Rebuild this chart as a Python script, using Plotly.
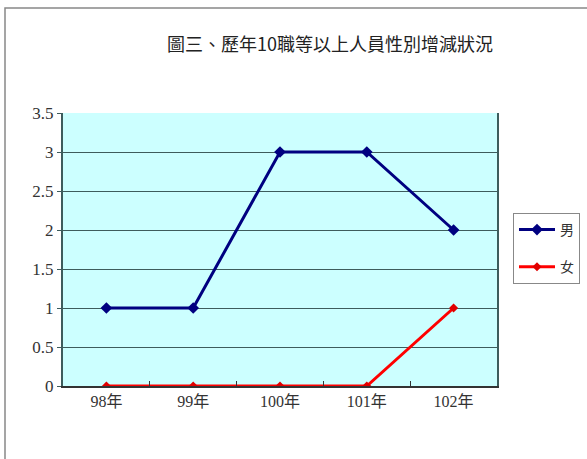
import plotly.graph_objects as go

categories = ["98年", "99年", "100年", "101年", "102年"]
male = [1, 1, 3, 3, 2]
female = [0, 0, 0, 0, 1]
series_names = ["男", "女"]
title_text = "圖三、歷年10職等以上人員性別增減狀況"

W, H = 587, 459
L, R, T, B = 63, 497, 113, 386
pw, ph = R - L, B - T

font_fam = "Liberation Serif, Noto Sans CJK TC, serif"

fig = go.Figure()
fig.add_trace(go.Scatter(x=categories, y=male, name=series_names[0], mode="lines+markers",
                         legendgroup="m",
                         line=dict(color="#000080", width=3),
                         marker=dict(symbol="diamond", size=9, color="#000080")))
fig.add_trace(go.Scatter(x=categories, y=female, name=series_names[1], mode="lines+markers",
                         legendgroup="f",
                         line=dict(color="#FF0000", width=3),
                         marker=dict(symbol="diamond", size=7, color="#E00000")))

def px_x(p):
    return (p - L) / pw

def px_y(p):
    return (B - p) / ph

fig.update_layout(
    width=W, height=H,
    margin=dict(l=L, r=W - R, t=T, b=H - B, autoexpand=False),
    paper_bgcolor="white",
    plot_bgcolor="#CCFFFF",
    font=dict(family=font_fam, size=14, color="#333333"),
    title=dict(text=title_text, x=330 / W, xanchor="center", y=1 - 45 / H, yanchor="middle",
               font=dict(family="Noto Sans CJK TC", size=18, color="#222222")),
    showlegend=True,
    legend=dict(x=px_x(513), y=px_y(213), xanchor="left", yanchor="top",
                bordercolor="#888888", borderwidth=1, bgcolor="white",
                font=dict(family="Noto Sans CJK TC", size=14, color="#333333"),
                itemwidth=36, tracegroupgap=16),
    xaxis=dict(type="category", range=[-0.5, 4.5], showgrid=False,
               showline=True, linecolor="#333333", linewidth=2,
               ticks="inside", tickson="boundaries", ticklen=5, tickcolor="#333333",
               tickfont=dict(family="Liberation Serif, Noto Sans CJK TC", size=16, color="#333333"),
               mirror=False, zeroline=False),
    yaxis=dict(range=[0, 3.5], dtick=0.5, showgrid=True, gridcolor="#3d5c5c", gridwidth=1,
               showline=True, linecolor="#3d5c5c", linewidth=2, mirror=True,
               ticks="outside", ticklen=4, tickcolor="#3d5c5c",
               tickfont=dict(family="Liberation Serif", size=17, color="#333333"),
               zeroline=False),
    shapes=[dict(type="rect", xref="paper", yref="paper",
                 x0=px_x(5), x1=px_x(600), y0=px_y(470), y1=px_y(8),
                 line=dict(color="#888888", width=1.5), fillcolor="rgba(0,0,0,0)", layer="below")],
)

fig.write_html("out.html", config={"displayModeBar": False},
               post_script="document.body.style.margin='0';")
